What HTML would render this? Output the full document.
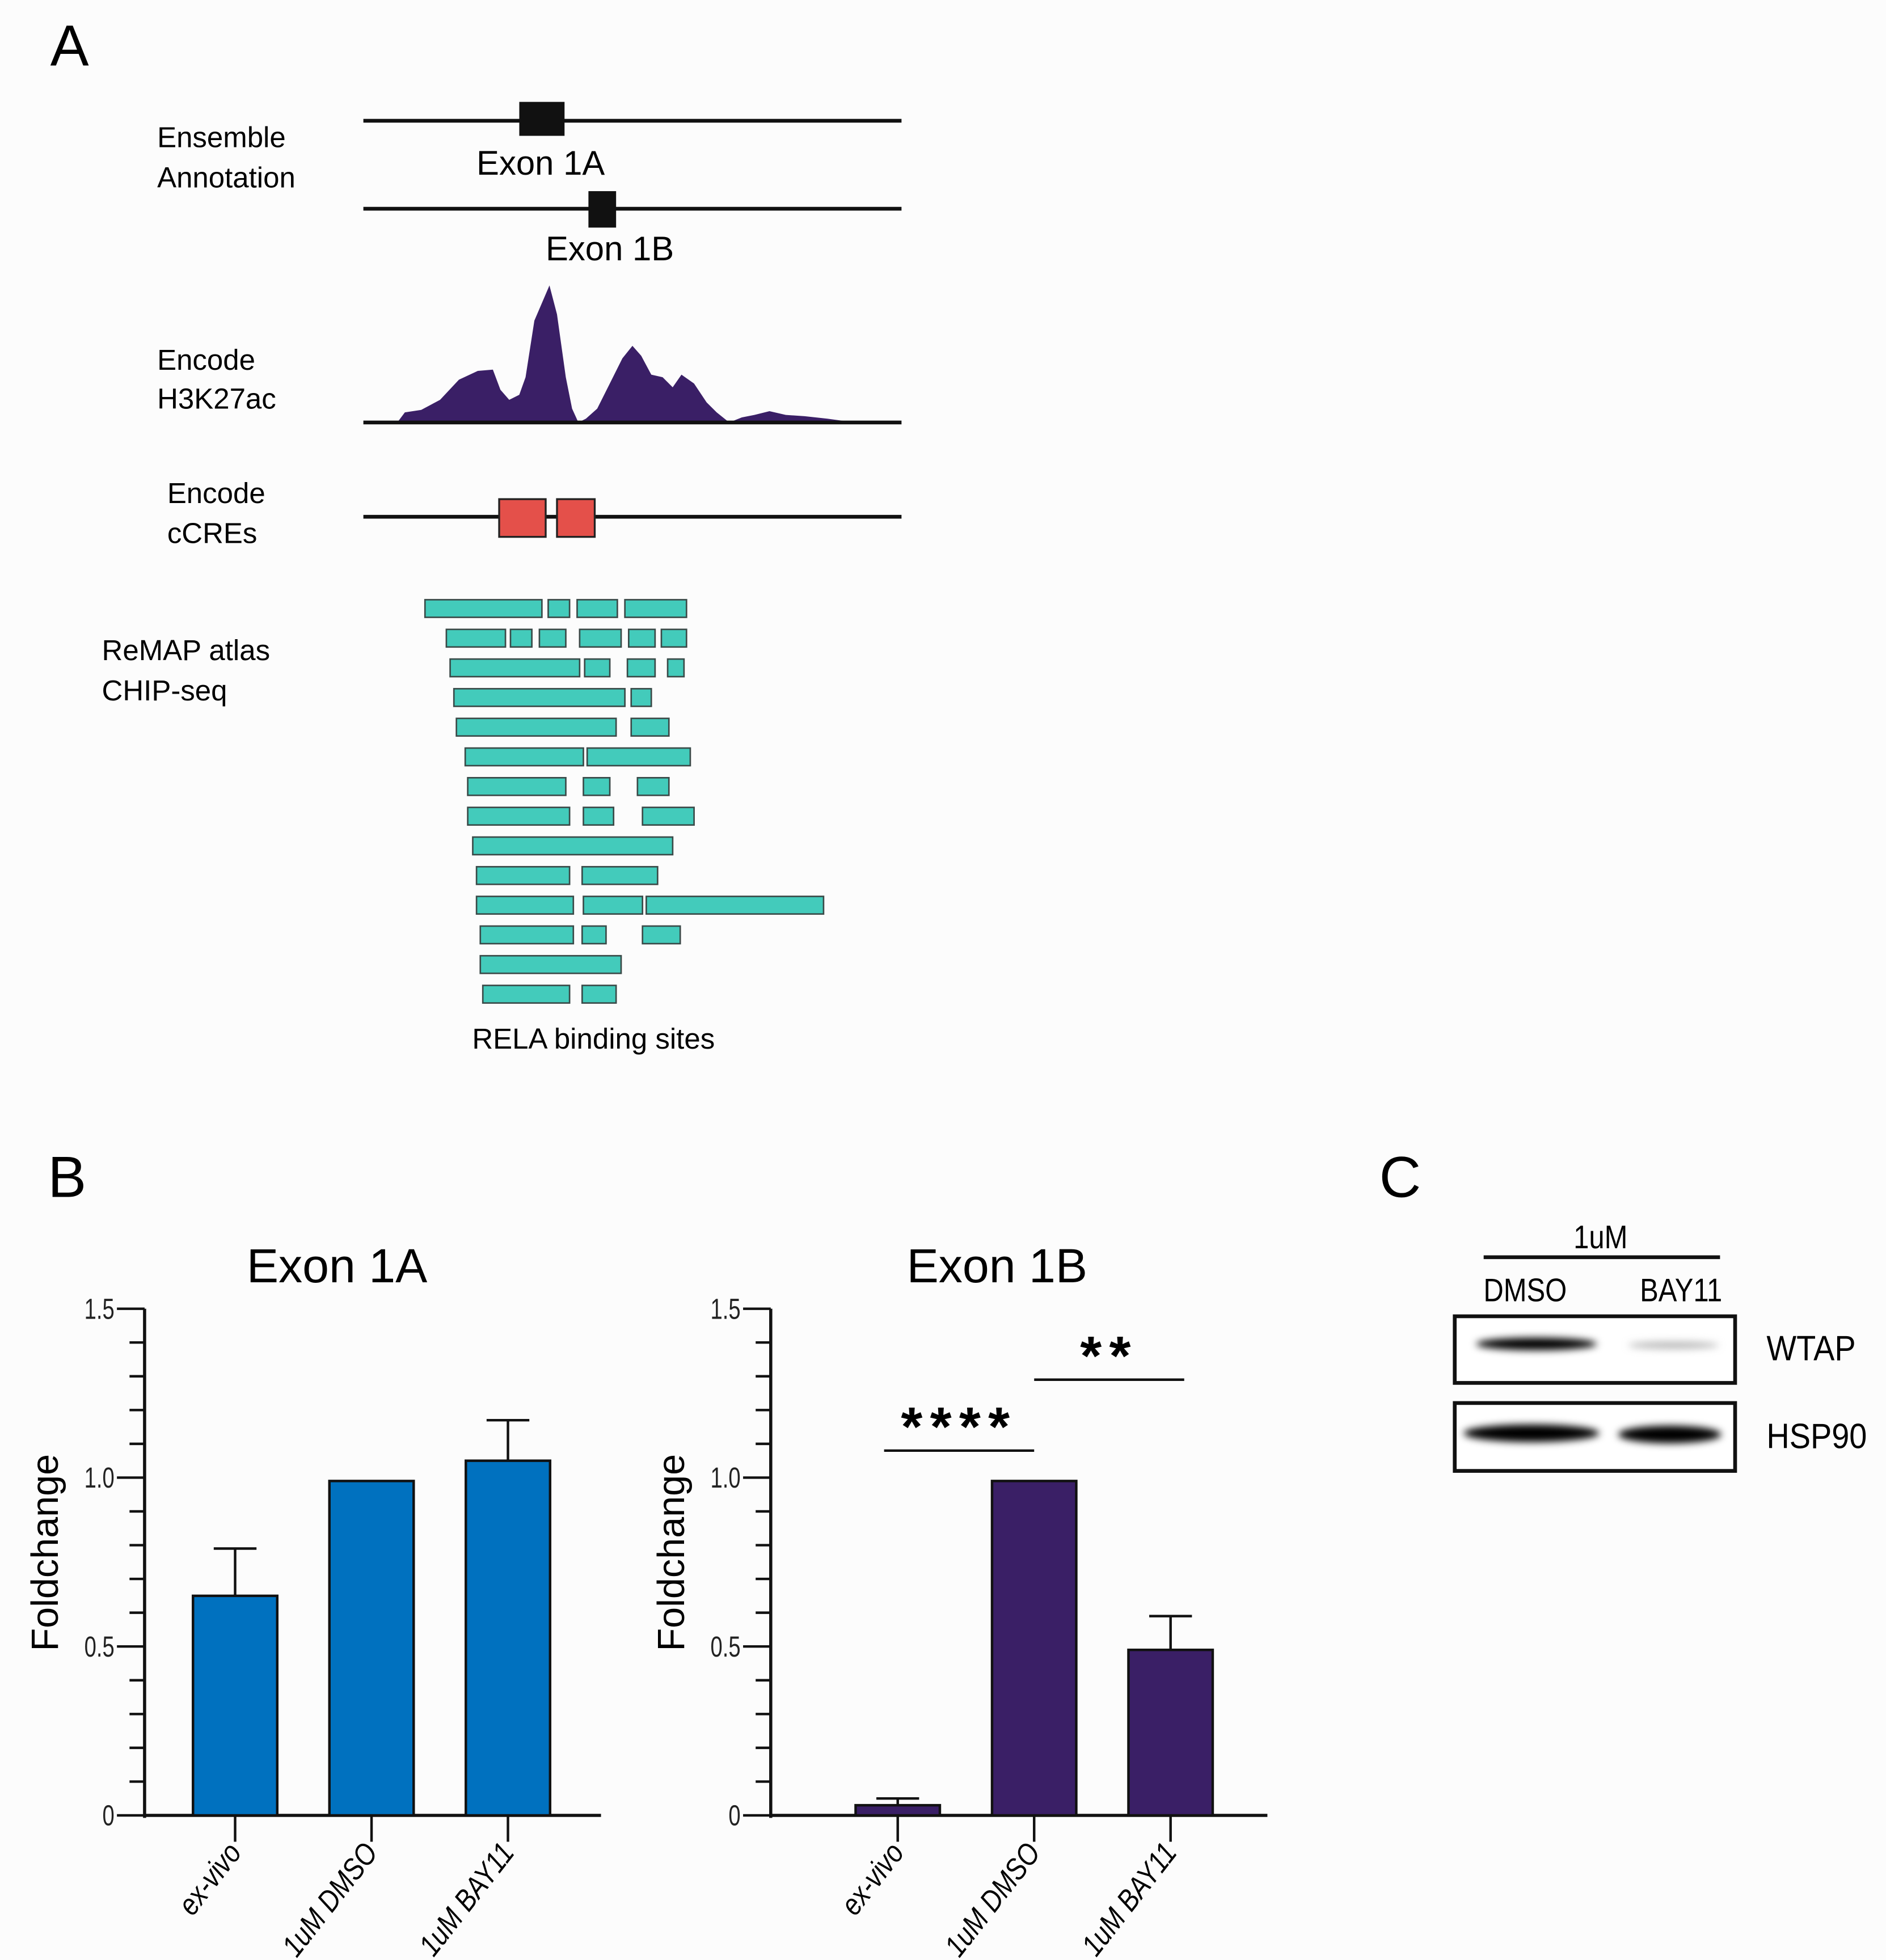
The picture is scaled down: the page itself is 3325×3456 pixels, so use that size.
<!DOCTYPE html>
<html><head><meta charset="utf-8">
<style>
html,body{margin:0;padding:0;background:#fcfcfc;}
svg{display:block;}
text{font-family:"Liberation Sans",sans-serif;}
</style></head>
<body>
<svg id="fig" width="3325" height="3456" viewBox="0 0 1500 1559" xmlns="http://www.w3.org/2000/svg">
<rect x="0" y="0" width="1500" height="1559" fill="#fcfcfc"/>
<g>
<text x="40" y="52" font-size="46">A</text>
<text x="125" y="117" font-size="23">Ensemble</text>
<text x="125" y="149" font-size="23">Annotation</text>
<line x1="289" y1="96" x2="717" y2="96" stroke="#111" stroke-width="3"/>
<rect x="413" y="81" width="36" height="27" fill="#111"/>
<text x="430" y="139" font-size="27" text-anchor="middle">Exon 1A</text>
<line x1="289" y1="166" x2="717" y2="166" stroke="#111" stroke-width="3"/>
<rect x="468" y="152" width="22" height="29" fill="#111"/>
<text x="485" y="207" font-size="27" text-anchor="middle">Exon 1B</text>
<text x="125" y="294" font-size="23">Encode</text>
<text x="125" y="325" font-size="23">H3K27ac</text>
<path fill="#3a1f66" d="M316,336 L322,328 L335,326 L350,318 L365,302 L380,295 L392,294 L398,310 L405,318 L413,314 L418,300 L425,255 L437,227 L443,250 L450,300 L455,325 L460,336 L466,333 L475,325 L485,305 L495,285 L503,275 L510,283 L518,298 L527,300 L535,308 L542,298 L552,305 L562,320 L570,328 L580,336 L590,332 L600,330 L612,327 L625,330 L640,331 L658,333 L680,336 Z"/>
<line x1="289" y1="336" x2="717" y2="336" stroke="#111" stroke-width="3"/>
<text x="133" y="400" font-size="23">Encode</text>
<text x="133" y="432" font-size="23">cCREs</text>
<line x1="289" y1="411" x2="717" y2="411" stroke="#111" stroke-width="3"/>
<rect x="397" y="397" width="37" height="30" fill="#e4504a" stroke="#222" stroke-width="1.5"/>
<rect x="443" y="397" width="30" height="30" fill="#e4504a" stroke="#222" stroke-width="1.5"/>
<text x="81" y="525" font-size="23">ReMAP atlas</text>
<text x="81" y="557" font-size="23">CHIP-seq</text>
<g id="remap"></g>
<text x="472" y="834" font-size="23" text-anchor="middle">RELA binding sites</text>
</g>
<text x="38" y="952" font-size="46">B</text>
<g id="chart1"></g>
<g id="chart2"></g>
<g>
<defs>
<filter id="blur" x="-20%" y="-100%" width="140%" height="300%"><feGaussianBlur stdDeviation="3"/></filter>
</defs>
<text x="1097" y="952" font-size="46">C</text>
<text x="1273" y="993" font-size="26" text-anchor="middle" transform="translate(1273 0) scale(0.85 1) translate(-1273 0)">1uM</text>
<line x1="1180" y1="1000" x2="1368" y2="1000" stroke="#111" stroke-width="3"/>
<text x="1213" y="1035" font-size="26" text-anchor="middle" transform="translate(1213 0) scale(0.85 1) translate(-1213 0)">DMSO</text>
<text x="1337" y="1035" font-size="26" text-anchor="middle" transform="translate(1337 0) scale(0.85 1) translate(-1337 0)">BAY11</text>
<rect x="1157" y="1047" width="223" height="53" fill="#fff" stroke="#111" stroke-width="3"/>
<ellipse cx="1222" cy="1069" rx="48" ry="5" fill="#000" filter="url(#blur)"/>
<ellipse cx="1331" cy="1070" rx="36" ry="3" fill="#bbb" filter="url(#blur)"/>
<rect x="1157" y="1116" width="223" height="54" fill="#fff" stroke="#111" stroke-width="3"/>
<ellipse cx="1218" cy="1140" rx="54" ry="7" fill="#000" filter="url(#blur)"/>
<ellipse cx="1328" cy="1141" rx="41" ry="7" fill="#000" filter="url(#blur)"/>
<text x="1405" y="1082" font-size="28" transform="translate(1405 0) scale(0.9 1) translate(-1405 0)">WTAP</text>
<text x="1405" y="1152" font-size="28" transform="translate(1405 0) scale(0.9 1) translate(-1405 0)">HSP90</text>
</g>
</svg>
<script>
const NS='http://www.w3.org/2000/svg';
const remapRows=[
 [[338,431],[436,453],[459,491],[497,546]],
 [[355,402],[406,423],[429,450],[461,494],[500,521],[526,546]],
 [[358,461],[465,485],[499,521],[531,544]],
 [[361,497],[502,518]],
 [[363,490],[502,532]],
 [[370,464],[467,549]],
 [[372,450],[464,485],[507,532]],
 [[372,453],[464,488],[511,552]],
 [[376,535]],
 [[379,453],[463,523]],
 [[379,456],[464,511],[514,655]],
 [[382,456],[463,482],[511,541]],
 [[382,494]],
 [[384,453],[463,490]]
];
const categories=['ex-vivo','1uM DMSO','1uM BAY11'];
const exon1aValues=[0.65,0.99,1.05];
const exon1aErrors=[0.14,0,0.12];
const exon1bValues=[0.03,0.99,0.49];
const exon1bErrors=[0.02,0,0.10];
const yTickLabels=['0','0.5','1.0','1.5'];
const yTickValues=[0,0.5,1.0,1.5];

function el(tag,attrs,parent){const e=document.createElementNS(NS,tag);for(const k in attrs)e.setAttribute(k,attrs[k]);parent.appendChild(e);return e;}

const remapG=document.getElementById('remap');
remapRows.forEach((row,i)=>{
  const yc=484+i*23.6;
  row.forEach(seg=>{
    const r=el('rect',{x:seg[0],y:yc-7,width:seg[1]-seg[0],height:14,fill:'#43cbbb',stroke:'#3a4a48','stroke-width':1.2},remapG);
    
    
  });
});

function drawChart(g,opt){
  const y0=1444,y1=1041,ymax=1.5;
  const ys=v=>y0-(v/ymax)*(y0-y1);
  const ax=opt.axisX;
  const t=el('text',{x:opt.titleX,y:1020,'font-size':38,'text-anchor':'middle'},g);
  t.textContent=opt.title;
  
  
  const yt=el('text',{x:0,y:0,'font-size':30,'text-anchor':'middle',transform:`translate(${ax-69},1235) rotate(-90)`},g);
  yt.textContent='Foldchange';
  
  
  const yl=el('line',{x1:ax,y1:y1,x2:ax,y2:y0+2,stroke:'#111','stroke-width':2.5},g);
  
  
  for(let k=0;k<=15;k++){
    const v=k*0.1,major=(k%5===0);
    const tk=el('line',{x1:ax-(major?22:12),y1:ys(v),x2:ax,y2:ys(v),stroke:'#111','stroke-width':2},g);
    
    
  }
  yTickValues.forEach((v,i)=>{
    const tl=el('text',{x:ax-24,y:ys(v)+8,'font-size':23,'text-anchor':'end',transform:`translate(${ax-24} 0) scale(0.75 1) translate(${-(ax-24)} 0)`,fill:'#222'},g);
    tl.textContent=yTickLabels[i];
    
    
  });
  const xl=el('line',{x1:ax,y1:y0,x2:ax+opt.axisLen,y2:y0,stroke:'#111','stroke-width':2.5},g);
  
  
  const bw=67;
  opt.values.forEach((v,i)=>{
    const cx=opt.firstCenter+i*108.5;
    const err=opt.errors[i];
    if(err>0){
      const e1=el('line',{x1:cx,y1:ys(v),x2:cx,y2:ys(v+err),stroke:'#111','stroke-width':2},g);
      
      
      const e2=el('line',{x1:cx-17,y1:ys(v+err),x2:cx+17,y2:ys(v+err),stroke:'#111','stroke-width':2},g);
      
      
    }
    const b=el('rect',{x:cx-bw/2,y:ys(v),width:bw,height:y0-ys(v),fill:opt.color,stroke:'#111','stroke-width':2},g);
    
    
    const xt=el('line',{x1:cx,y1:y0,x2:cx,y2:y0+21,stroke:'#111','stroke-width':2},g);
    
    
    const lx=cx+6,ly=y0+30;
    const lab=el('text',{x:0,y:0,'font-size':24,'font-style':'italic','text-anchor':'end',transform:`translate(${lx},${ly}) rotate(-52) scale(0.85 1)`},g);
    lab.textContent=categories[i];
    
    
  });
  (opt.sig||[]).forEach(s=>{
    const c1=opt.firstCenter+s.a*108.5,c2=opt.firstCenter+s.b*108.5;
    const ln=el('line',{x1:c1,y1:ys(s.y),x2:c2,y2:ys(s.y),stroke:'#111','stroke-width':2},g);
    
    
    const st=el('text',{x:(c1+c2)/2,y:ys(s.y)-4,'font-size':44,'font-weight':'bold','text-anchor':'middle','letter-spacing':6},g);
    st.textContent=s.label;
    
    
  });
}
drawChart(document.getElementById('chart1'),{title:'Exon 1A',titleX:268,axisX:115,axisLen:363,firstCenter:187,values:exon1aValues,errors:exon1aErrors,color:'#0071bf'});
drawChart(document.getElementById('chart2'),{title:'Exon 1B',titleX:793,axisX:613,axisLen:395,firstCenter:714,values:exon1bValues,errors:exon1bErrors,color:'#3a1f66',
  sig:[{a:-0.1,b:1,y:1.08,label:'****'},{a:1,b:2.1,y:1.29,label:'**'}]});
</script>
</body></html>
